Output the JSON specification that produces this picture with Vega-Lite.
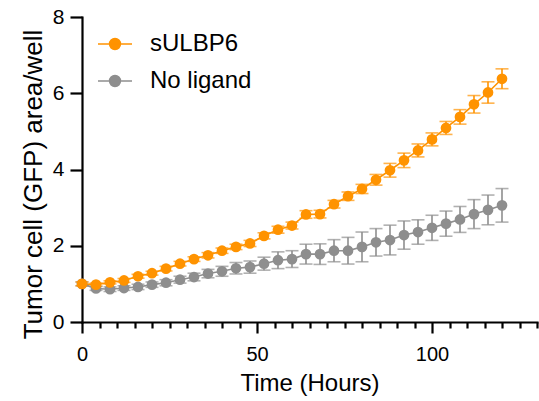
{
  "$schema": "https://vega.github.io/schema/vega-lite/v6.json",
  "autosize": "none",
  "width": 455,
  "height": 305,
  "padding": {"left": 82, "top": 17, "right": 2, "bottom": 79},
  "config": {"font": "Liberation Sans", "view": {"stroke": null}},
  "data": {"values": [
    {"t":0,"series":"No ligand","mean":1.0,"sd":0.05},
    {"t":4,"series":"No ligand","mean":0.88,"sd":0.05},
    {"t":8,"series":"No ligand","mean":0.86,"sd":0.06},
    {"t":12,"series":"No ligand","mean":0.89,"sd":0.06},
    {"t":16,"series":"No ligand","mean":0.92,"sd":0.07},
    {"t":20,"series":"No ligand","mean":0.98,"sd":0.07},
    {"t":24,"series":"No ligand","mean":1.03,"sd":0.08},
    {"t":28,"series":"No ligand","mean":1.11,"sd":0.09},
    {"t":32,"series":"No ligand","mean":1.18,"sd":0.1},
    {"t":36,"series":"No ligand","mean":1.27,"sd":0.11},
    {"t":40,"series":"No ligand","mean":1.33,"sd":0.13},
    {"t":44,"series":"No ligand","mean":1.41,"sd":0.15},
    {"t":48,"series":"No ligand","mean":1.44,"sd":0.16},
    {"t":52,"series":"No ligand","mean":1.53,"sd":0.17},
    {"t":56,"series":"No ligand","mean":1.62,"sd":0.22},
    {"t":60,"series":"No ligand","mean":1.65,"sd":0.22},
    {"t":64,"series":"No ligand","mean":1.78,"sd":0.26},
    {"t":68,"series":"No ligand","mean":1.78,"sd":0.27},
    {"t":72,"series":"No ligand","mean":1.87,"sd":0.29},
    {"t":76,"series":"No ligand","mean":1.87,"sd":0.35},
    {"t":80,"series":"No ligand","mean":1.97,"sd":0.39},
    {"t":84,"series":"No ligand","mean":2.09,"sd":0.36},
    {"t":88,"series":"No ligand","mean":2.15,"sd":0.39},
    {"t":92,"series":"No ligand","mean":2.28,"sd":0.37},
    {"t":96,"series":"No ligand","mean":2.36,"sd":0.32},
    {"t":100,"series":"No ligand","mean":2.47,"sd":0.33},
    {"t":104,"series":"No ligand","mean":2.58,"sd":0.33},
    {"t":108,"series":"No ligand","mean":2.69,"sd":0.34},
    {"t":112,"series":"No ligand","mean":2.83,"sd":0.38},
    {"t":116,"series":"No ligand","mean":2.94,"sd":0.39},
    {"t":120,"series":"No ligand","mean":3.06,"sd":0.44},
    {"t":0,"series":"sULBP6","mean":1.0,"sd":0.05},
    {"t":4,"series":"sULBP6","mean":0.98,"sd":0.04},
    {"t":8,"series":"sULBP6","mean":1.04,"sd":0.04},
    {"t":12,"series":"sULBP6","mean":1.09,"sd":0.05},
    {"t":16,"series":"sULBP6","mean":1.2,"sd":0.05},
    {"t":20,"series":"sULBP6","mean":1.28,"sd":0.05},
    {"t":24,"series":"sULBP6","mean":1.4,"sd":0.06},
    {"t":28,"series":"sULBP6","mean":1.53,"sd":0.06},
    {"t":32,"series":"sULBP6","mean":1.65,"sd":0.06},
    {"t":36,"series":"sULBP6","mean":1.75,"sd":0.07},
    {"t":40,"series":"sULBP6","mean":1.87,"sd":0.07},
    {"t":44,"series":"sULBP6","mean":1.97,"sd":0.07},
    {"t":48,"series":"sULBP6","mean":2.06,"sd":0.08},
    {"t":52,"series":"sULBP6","mean":2.26,"sd":0.08},
    {"t":56,"series":"sULBP6","mean":2.42,"sd":0.09},
    {"t":60,"series":"sULBP6","mean":2.53,"sd":0.09},
    {"t":64,"series":"sULBP6","mean":2.82,"sd":0.1},
    {"t":68,"series":"sULBP6","mean":2.83,"sd":0.1},
    {"t":72,"series":"sULBP6","mean":3.09,"sd":0.1},
    {"t":76,"series":"sULBP6","mean":3.3,"sd":0.11},
    {"t":80,"series":"sULBP6","mean":3.49,"sd":0.12},
    {"t":84,"series":"sULBP6","mean":3.73,"sd":0.14},
    {"t":88,"series":"sULBP6","mean":3.98,"sd":0.18},
    {"t":92,"series":"sULBP6","mean":4.24,"sd":0.19},
    {"t":96,"series":"sULBP6","mean":4.5,"sd":0.17},
    {"t":100,"series":"sULBP6","mean":4.79,"sd":0.17},
    {"t":104,"series":"sULBP6","mean":5.09,"sd":0.17},
    {"t":108,"series":"sULBP6","mean":5.38,"sd":0.19},
    {"t":112,"series":"sULBP6","mean":5.71,"sd":0.23},
    {"t":116,"series":"sULBP6","mean":6.02,"sd":0.28},
    {"t":120,"series":"sULBP6","mean":6.38,"sd":0.26}
  ]},
  "encoding": {
    "x": {"field": "t", "type": "quantitative",
      "scale": {"domain": [0, 130], "nice": false, "zero": false},
      "axis": {
        "title": "Time (Hours)",
        "values": [0,5,10,15,20,25,30,35,40,45,50,55,60,65,70,75,80,85,90,95,100,105,110,115,120,125,130],
        "labelExpr": "datum.value % 50 === 0 ? datum.label : ''",
        "tickSize": {"condition": {"test": "datum.value % 50 === 0", "value": 11}, "value": 6},
        "grid": false,
        "domainColor": "black", "domainWidth": 2.2, "domainCap": "square",
        "tickColor": "black", "tickWidth": 2.2,
        "labelColor": "black", "labelFontSize": 20, "labelPadding": 11, "labelFlush": false, "labelOverlap": false,
        "titleColor": "black", "titleFontSize": 24, "titleFontWeight": "normal", "titlePadding": 7
      }
    },
    "y": {"field": "mean", "type": "quantitative",
      "scale": {"domain": [0, 8], "nice": false},
      "axis": {
        "title": "Tumor cell (GFP) area/well",
        "values": [0,2,4,6,8],
        "grid": false, "tickSize": 12,
        "domainColor": "black", "domainWidth": 2.2, "domainCap": "square",
        "tickColor": "black", "tickWidth": 2.2,
        "labelColor": "black", "labelFontSize": 21, "labelPadding": 6,
        "titleColor": "black", "titleFontSize": 26, "titleFontWeight": "normal", "titlePadding": 6, "titleY": 167
      }
    },
    "color": {"field": "series", "type": "nominal",
      "scale": {"domain": ["sULBP6", "No ligand"], "range": ["#FF9300", "#8E8E8E"]},
      "legend": {
        "orient": "none", "legendX": 15, "legendY": 9, "title": null,
        "symbolType": "M-1,0H1M0.32,0A0.32,0.32 0 1,1 -0.32,0A0.32,0.32 0 1,1 0.32,0Z",
        "symbolSize": 1156, "symbolStrokeWidth": 1.5,
        "labelFontSize": 24, "labelColor": "black", "labelOffset": 17,
        "padding": 0, "rowPadding": 7,
        "encode": {"symbols": {"update": {"fill": {"scale": "color", "field": "value"}, "stroke": {"scale": "color", "field": "value"}, "opacity": {"value": 1}}}}
      }
    }
  },
  "layer": [
    {"mark": {"type": "errorbar", "ticks": {"size": 13, "thickness": 1.6}, "thickness": 1.6},
     "encoding": {"yError": {"field": "sd"}}},
    {"mark": {"type": "line", "strokeWidth": 1.6}},
    {"mark": {"type": "point", "filled": true, "size": 115, "opacity": 1}}
  ]
}
